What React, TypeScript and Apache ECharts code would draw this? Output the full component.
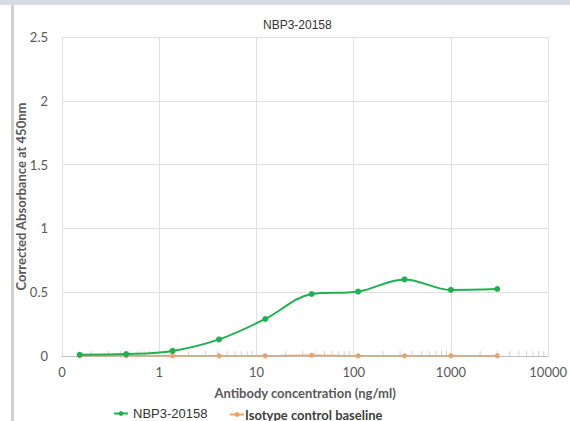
import React, { useEffect, useRef } from "react";
import * as echarts from "echarts";

const concentrations = [0.152, 0.457, 1.37, 4.12, 12.3, 37, 111, 333, 1000, 3000];
const nbpValues = [0.01, 0.015, 0.04, 0.13, 0.29, 0.486, 0.505, 0.6, 0.518, 0.525];
const isotypeValues = [0.002, 0.002, 0.002, 0.002, 0.002, 0.006, 0.002, 0.002, 0.002, 0.002];
const decades = [0.1, 1, 10, 100, 1000];
const minorMultipliers = [2, 3, 4, 5, 6, 7, 8, 9];
const yTicks = [0, 0.5, 1, 1.5, 2, 2.5];

const GREEN = "#1fb04f";
const ORANGE = "#f4a15d";

export default function App() {
  const ref = useRef<HTMLDivElement>(null);
  useEffect(() => {
    if (!ref.current) return;
    const chart = echarts.init(ref.current, undefined, { renderer: "svg" });
    const minor: number[][] = [];
    decades.forEach((d) => minorMultipliers.forEach((m) => minor.push([d * m, 0])));
    chart.setOption({
      animation: false,
      backgroundColor: "#ffffff",
      title: {
        text: "NBP3-20158",
        left: 258,
        top: 14,
        textStyle: { fontFamily: "Liberation Sans", fontSize: 12, fontWeight: "normal", color: "#333333" },
      },
      graphic: [
        { type: "rect", shape: { x: 0, y: 0, width: 570, height: 5 }, style: { fill: "#d6dbe2" }, z: 100 },
        { type: "rect", shape: { x: 11, y: 5, width: 3, height: 416 }, style: { fill: "#d0d0d0" }, z: 100 },
      ],
      legend: [
        {
          data: ["NBP3-20158"],
          left: 108,
          top: 402,
          itemWidth: 14,
          itemHeight: 6,
          itemGap: 4,
          textStyle: { fontFamily: "Liberation Sans", fontSize: 13, color: "#333333" },
        },
        {
          data: ["Isotype control baseline"],
          left: 224,
          top: 403,
          itemWidth: 14,
          itemHeight: 6,
          textStyle: { fontFamily: "Lato", fontSize: 13, fontWeight: "bold", color: "#404040", padding: [0, 0, 0, -4] },
        },
      ],
      grid: { left: 62, right: 20, top: 37, bottom: 65 },
      xAxis: {
        type: "log",
        logBase: 10,
        min: 0.1,
        max: 10000,
        name: "Antibody concentration (ng/ml)",
        nameLocation: "middle",
        nameGap: 30,
        nameMoveOverlap: false,
        nameTextStyle: { fontFamily: "Lato", fontSize: 13, fontWeight: "bold", color: "#595959" },
        axisLine: { show: true, lineStyle: { color: "#bfbfbf", width: 1 } },
        axisTick: { show: false },
        minorTick: { show: false },
        splitLine: { show: true, lineStyle: { color: "#e0e0e0", width: 1 } },
        axisLabel: {
          fontFamily: "Lato",
          fontSize: 13,
          color: "#595959",
          margin: 9,
          formatter: (v: number) => (v < 1 ? "0" : String(Math.round(v))),
        },
      },
      yAxis: {
        type: "value",
        min: yTicks[0],
        max: yTicks[yTicks.length - 1],
        interval: 0.5,
        name: "Corrected Absorbance at 450nm",
        nameLocation: "middle",
        nameGap: 35,
        nameMoveOverlap: false,
        nameTextStyle: { fontFamily: "Lato", fontSize: 13, fontWeight: "bold", color: "#595959" },
        axisLine: { show: false },
        axisTick: { show: false },
        splitLine: { show: true, lineStyle: { color: "#e0e0e0", width: 1 } },
        axisLabel: { fontFamily: "Lato", fontSize: 13, color: "#595959", margin: 14 },
      },
      series: [
        {
          name: "minorTicks",
          type: "scatter",
          data: minor,
          symbol: "rect",
          symbolSize: [1, 5],
          symbolOffset: [0, -2.5],
          itemStyle: { color: "#c8c8c8" },
          silent: true,
          z: 1,
        },
        {
          name: "Isotype control baseline",
          type: "line",
          data: concentrations.map((c, i) => [c, isotypeValues[i]]),
          smooth: 0.3,
          symbol: "circle",
          symbolSize: 5,
          lineStyle: { color: ORANGE, width: 1.5 },
          itemStyle: { color: ORANGE },
          z: 3,
        },
        {
          name: "NBP3-20158",
          type: "line",
          data: concentrations.map((c, i) => [c, nbpValues[i]]),
          smooth: 0.35,
          symbol: "circle",
          symbolSize: 6,
          lineStyle: { color: GREEN, width: 2 },
          itemStyle: { color: GREEN },
          z: 4,
        },
      ],
    });
    return () => chart.dispose();
  }, []);
  return (
    <div
      ref={ref}
      style={{ position: "fixed", left: 0, top: 0, width: 570, height: 421, background: "#fff" }}
    />
  );
}
